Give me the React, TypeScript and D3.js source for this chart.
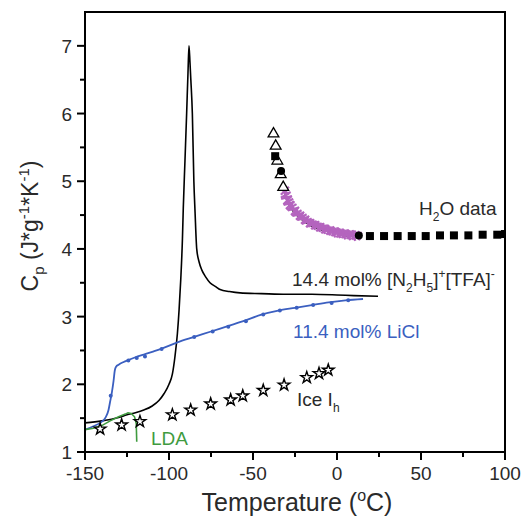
import React from "react";
import * as d3 from "d3";

// 14.4 mol% [N2H5]+[TFA]- (black line)
const tfaT = [-150, -140, -130, -125, -120, -115, -110, -106, -103, -100, -98, -96.5, -95, -94, -93, -92, -91.5, -90.5, -89.5, -88.7, -88.1, -87.5, -87, -86.1, -85.2, -84.5, -83.5, -82, -80.5, -78, -75.6, -72, -69.6, -64, -57.7, -45, -30, -15, 0, 10, 24.4];
const tfaCp = [1.43, 1.46, 1.51, 1.55, 1.58, 1.62, 1.68, 1.76, 1.86, 2.0, 2.15, 2.4, 2.75, 3.1, 3.55, 4.15, 4.6, 5.3, 6.0, 6.6, 7.0, 6.75, 6.5, 6.0, 5.0, 4.55, 4.0, 3.8, 3.69, 3.58, 3.5, 3.44, 3.4, 3.37, 3.35, 3.34, 3.33, 3.33, 3.32, 3.31, 3.3];

// 11.4 mol% LiCl (blue line + dots)
const liclT = [-150, -145, -141, -138, -136, -135, -134, -133, -132.3, -131.5, -130, -127, -124, -120, -115, -110, -104, -95, -85, -75, -65, -55, -45, -35, -25, -15, -5, 5, 15.5];
const liclCp = [1.33, 1.38, 1.43, 1.5, 1.62, 1.75, 1.88, 2.05, 2.2, 2.26, 2.29, 2.33, 2.36, 2.4, 2.44, 2.48, 2.53, 2.62, 2.7, 2.78, 2.86, 2.94, 3.03, 3.09, 3.13, 3.17, 3.21, 3.24, 3.26];
const liclDotT = [-134.7, -124.2, -119.2, -114.3, -104.4, -85, -74, -64.7, -54.2, -43.9, -34, -24, -14.2, -3.2, 6.7];
const liclDotCp = [1.83, 2.35, 2.39, 2.41, 2.52, 2.7, 2.78, 2.85, 2.93, 3.03, 3.09, 3.13, 3.17, 3.2, 3.24];

// LDA (green)
const ldaT = [-150, -145, -140, -135, -130, -126, -124.4, -122.5, -120.5, -119.5, -119.2];
const ldaCp = [1.33, 1.35, 1.39, 1.46, 1.52, 1.56, 1.58, 1.57, 1.52, 1.42, 1.15];

// Ice Ih (stars)
const iceT = [-141, -128.2, -117.3, -98, -87.1, -75.2, -63.3, -56.1, -43.9, -31.5, -18, -10.7, -5.2];
const iceCp = [1.34, 1.4, 1.45, 1.55, 1.62, 1.71, 1.77, 1.83, 1.91, 1.99, 2.1, 2.16, 2.21];

// H2O data
const triT = [-37.8, -36.5, -35.5, -33.5, -32.0];
const triCp = [5.7, 5.52, 5.3, 5.1, 4.91];
const circT = [-33.3, 13];
const circCp = [5.15, 4.2];
const sqT = [-36.8, 19.6, 28.0, 36.1, 44.5, 52.8, 61.3, 69.6, 78.2, 86.7, 95.4, 100];
const sqCp = [5.37, 4.19, 4.19, 4.19, 4.19, 4.19, 4.2, 4.2, 4.2, 4.21, 4.21, 4.22];
const dashT = [-31, -28, -24, -20, -16, -12, -8, -4, 0, 4, 8];
const dashCp = [4.82, 4.62, 4.5, 4.42, 4.35, 4.31, 4.27, 4.25, 4.22, 4.2, 4.19];
const crossT = [-31, -30.5, -30, -29.5, -29, -28.5, -28, -27, -26, -25, -24, -23, -22, -21, -20, -19, -18, -17, -16, -15, -14, -13, -12, -11, -10, -9, -8, -7, -6, -5, -4, -3, -2, -1, 0, 1, 2, 3, 4, 5, 6, 7, 8, 9, 10, 11, 12];
const crossCp = [4.86, 4.8, 4.76, 4.72, 4.7, 4.67, 4.65, 4.62, 4.59, 4.56, 4.53, 4.51, 4.49, 4.47, 4.45, 4.43, 4.41, 4.4, 4.38, 4.37, 4.36, 4.35, 4.34, 4.33, 4.32, 4.31, 4.3, 4.29, 4.28, 4.28, 4.27, 4.26, 4.25, 4.25, 4.24, 4.24, 4.23, 4.23, 4.22, 4.22, 4.21, 4.21, 4.21, 4.2, 4.2, 4.2, 4.2];

const xTicks = [-150, -100, -50, 0, 50, 100];
const xMinor = [-125, -75, -25, 25, 75];
const yTicks = [1, 2, 3, 4, 5, 6, 7];
const yMinor = [1.5, 2.5, 3.5, 4.5, 5.5, 6.5];

const W = 521, H = 517;
const blue = "#3b5fc0";
const green = "#3f9b3f";
const purple = "#b464be";
const ink = "#2a2a2a";
const font = "'Liberation Sans', Arial, sans-serif";

const zip = (a: number[], b: number[]) => a.map((v, i) => [v, b[i]] as [number, number]);

export default function App() {
  const x = d3.scaleLinear().domain([-150, 100]).range([85, 505]);
  const y = d3.scaleLinear().domain([1, 7.5]).range([452, 12]);
  const line = d3.line<[number, number]>().x((d) => x(d[0])).y((d) => y(d[1])).curve(d3.curveMonotoneX);
  const linear = d3.line<[number, number]>().x((d) => x(d[0])).y((d) => y(d[1]));
  const star = d3.symbol().type(d3.symbolStar).size(42)();
  const tri = d3.symbol().type(d3.symbolTriangle).size(50)();

  return (
    <svg width={W} height={H} style={{ position: "absolute", left: 0, top: 0, background: "#fff" }} fontFamily={font}>
      <defs>
        <clipPath id="plot">
          <rect x={85} y={12} width={420} height={440} />
        </clipPath>
      </defs>
      <g clipPath="url(#plot)">
        <path d={line(zip(tfaT, tfaCp)) || ""} fill="none" stroke="#000" strokeWidth={1.6} />
        <path d={line(zip(liclT, liclCp)) || ""} fill="none" stroke={blue} strokeWidth={1.8} />
        {zip(liclDotT, liclDotCp).map((d, i) => (
          <circle key={"b" + i} cx={x(d[0])} cy={y(d[1])} r={2} fill={blue} />
        ))}
        <path d={linear(zip(ldaT, ldaCp)) || ""} fill="none" stroke={green} strokeWidth={1.6} />
        {zip(iceT, iceCp).map((d, i) => (
          <path key={"s" + i} d={star || ""} transform={`translate(${x(d[0])},${y(d[1])})`} fill="#fff" stroke="#000" strokeWidth={1.4} />
        ))}
        <path d={linear(zip(dashT, dashCp)) || ""} fill="none" stroke="#000" strokeWidth={2} strokeDasharray="3,3" />
        {zip(crossT, crossCp).map((d, i) => (
          <g key={"c" + i} transform={`translate(${x(d[0])},${y(d[1])}) rotate(${(i % 3) * 15})`} stroke={purple} strokeWidth={2.2}>
            <line x1={-4} y1={-4} x2={4} y2={4} />
            <line x1={-4} y1={4} x2={4} y2={-4} />
          </g>
        ))}
        {zip(triT, triCp).map((d, i) => (
          <path key={"t" + i} d={tri || ""} transform={`translate(${x(d[0])},${y(d[1])})`} fill="#fff" stroke="#000" strokeWidth={1.3} />
        ))}
        {zip(sqT, sqCp).map((d, i) => (
          <rect key={"q" + i} x={x(d[0]) - 4} y={y(d[1]) - 4} width={8} height={8} fill="#000" />
        ))}
        {zip(circT, circCp).map((d, i) => (
          <circle key={"o" + i} cx={x(d[0])} cy={y(d[1])} r={4} fill="#000" />
        ))}
      </g>

      {/* frame */}
      <rect x={85} y={12} width={420} height={440} fill="none" stroke="#000" strokeWidth={2} />

      {/* x axis ticks */}
      {xTicks.map((t) => (
        <g key={"xt" + t}>
          <line x1={x(t)} x2={x(t)} y1={452} y2={460} stroke="#000" strokeWidth={2} />
          <text x={x(t)} y={480} textAnchor="middle" fontSize={19} fill={ink}>{t}</text>
        </g>
      ))}
      {xMinor.map((t) => (
        <line key={"xm" + t} x1={x(t)} x2={x(t)} y1={452} y2={457} stroke="#000" strokeWidth={2} />
      ))}
      {/* y axis ticks */}
      {yTicks.map((t) => (
        <g key={"yt" + t}>
          <line x1={77} x2={85} y1={y(t)} y2={y(t)} stroke="#000" strokeWidth={2} />
          <text x={72} y={y(t) + 7} textAnchor="end" fontSize={19} fill={ink}>{t}</text>
        </g>
      ))}
      {yMinor.map((t) => (
        <line key={"ym" + t} x1={80} x2={85} y1={y(t)} y2={y(t)} stroke="#000" strokeWidth={2} />
      ))}

      {/* axis titles */}
      <text x={297} y={511} textAnchor="middle" fontSize={25} fill={ink}>
        Temperature (<tspan fontSize={16} dy={-10}>o</tspan><tspan dy={10}>C)</tspan>
      </text>
      <text transform="translate(38,226) rotate(-90)" textAnchor="middle" fontSize={23} fill={ink}>
        C<tspan fontSize={15} dy={6}>p</tspan>
        <tspan dy={-6}> (J*g</tspan>
        <tspan fontSize={15} dy={-9}>-1</tspan>
        <tspan dy={9}>*K</tspan>
        <tspan fontSize={15} dy={-9}>-1</tspan>
        <tspan dy={9}>)</tspan>
      </text>

      {/* series labels */}
      <text x={419} y={215} fontSize={19} fill={ink}>
        H<tspan fontSize={12} dy={6}>2</tspan><tspan dy={-6}>O data</tspan>
      </text>
      <text x={292} y={286} fontSize={19} fill={ink}>
        14.4 mol% [N<tspan fontSize={12} dy={6}>2</tspan>
        <tspan dy={-6}>H</tspan>
        <tspan fontSize={12} dy={6}>5</tspan>
        <tspan dy={-6}>]</tspan>
        <tspan fontSize={12} dy={-8}>+</tspan>
        <tspan dy={8}>[TFA]</tspan>
        <tspan fontSize={12} dy={-8}>-</tspan>
      </text>
      <text x={293} y={338} fontSize={19} fill={blue}>11.4 mol% LiCl</text>
      <text x={297} y={406} fontSize={19} fill={ink}>
        Ice I<tspan fontSize={12} dy={6}>h</tspan>
      </text>
      <text x={151} y={445} fontSize={19} fill={green}>LDA</text>
    </svg>
  );
}
